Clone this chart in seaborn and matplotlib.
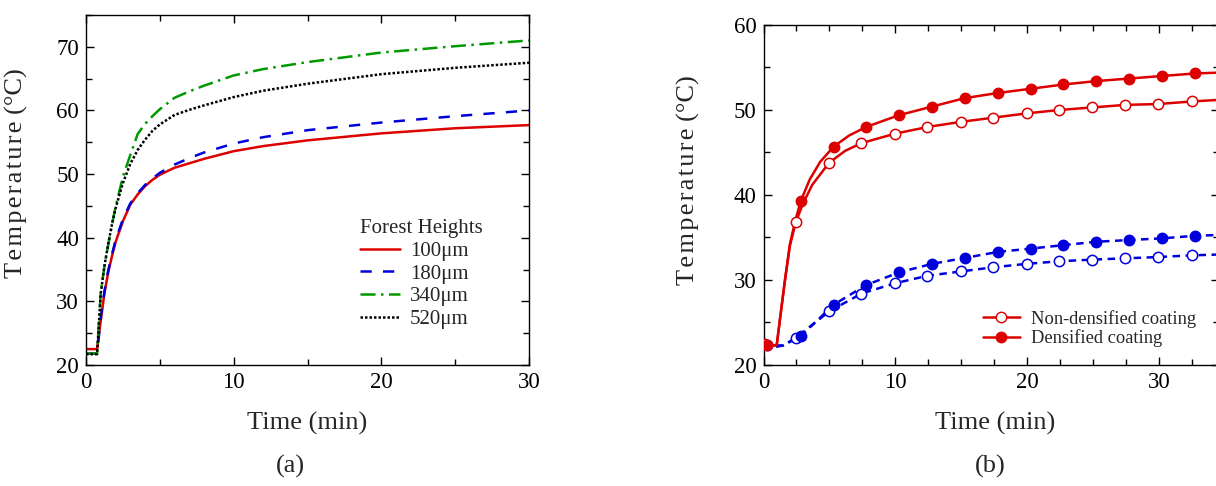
import matplotlib
matplotlib.use("Agg")
import matplotlib.pyplot as plt
from matplotlib.lines import Line2D
from matplotlib.ticker import MultipleLocator
import seaborn as sns

# panel (a): temperature vs time for four forest heights
t_a = [0, 0.75, 1.0, 1.25, 1.5, 1.75, 2.0, 2.5, 3, 3.5, 4, 4.5, 5, 6, 7, 8, 10, 12, 15, 20, 25, 30]
h100 = [22.5, 22.5, 27.0, 31.3, 34.5, 37.0, 39.3, 42.6, 45.2, 46.8, 48.1, 49.1, 49.9, 51.0, 51.7, 52.4, 53.6, 54.4, 55.3, 56.4, 57.2, 57.7]
h180 = [21.8, 21.8, 27.5, 31.6, 34.8, 37.3, 39.6, 42.9, 45.4, 47.0, 48.3, 49.3, 50.2, 51.5, 52.5, 53.4, 54.8, 55.8, 56.9, 58.1, 59.1, 60.0]
h340 = [21.8, 21.8, 31.5, 35.5, 38.8, 42.0, 44.8, 49.6, 53.0, 56.3, 57.9, 59.1, 60.2, 62.0, 63.0, 63.9, 65.5, 66.5, 67.6, 69.1, 70.1, 71.0]
h520 = [21.7, 21.7, 31.3, 35.6, 39.0, 42.0, 44.6, 48.6, 51.6, 53.8, 55.4, 56.8, 57.8, 59.3, 60.1, 60.8, 62.1, 63.1, 64.2, 65.7, 66.7, 67.5]
labels_a = ["100\u03bcm", "180\u03bcm", "340\u03bcm", "520\u03bcm"]

# panel (b): markers
t_open = [0, 2.45, 4.98, 7.43, 9.94, 12.44, 14.95, 17.45, 19.96, 22.43, 24.94, 27.44, 29.92, 32.48]
t_fill = [0.27, 2.83, 5.33, 7.78, 10.29, 12.79, 15.27, 17.78, 20.28, 22.76, 25.24, 27.74, 30.22, 32.75]
red_open = [22.5, 36.8, 43.8, 46.1, 47.2, 48.0, 48.6, 49.1, 49.6, 50.0, 50.3, 50.6, 50.7, 51.0]
red_fill = [22.3, 39.3, 45.7, 48.0, 49.4, 50.4, 51.4, 52.0, 52.5, 53.0, 53.4, 53.7, 54.0, 54.3]
blue_open = [22.5, 23.2, 26.3, 28.4, 29.6, 30.5, 31.0, 31.5, 31.9, 32.2, 32.4, 32.55, 32.7, 32.9]
blue_fill = [22.3, 23.4, 27.1, 29.4, 30.9, 31.9, 32.6, 33.3, 33.7, 34.1, 34.5, 34.7, 34.9, 35.2]

# panel (b): continuous curves
t_ro = [0, 1.0, 1.3, 1.63, 2.0, 2.45, 3.0, 3.7, 4.98, 6.2, 7.43, 9.94, 12.44, 14.95, 17.45, 19.96, 22.43, 24.94, 27.44, 29.92, 32.48, 34.6]
v_ro = [22.5, 22.3, 26.0, 30.0, 34.0, 36.8, 39.0, 41.2, 43.8, 45.2, 46.1, 47.2, 48.0, 48.6, 49.1, 49.6, 50.0, 50.3, 50.6, 50.7, 51.0, 51.2]
t_rf = [0, 0.27, 1.0, 1.3, 1.63, 2.0, 2.4, 2.83, 3.5, 4.3, 5.33, 6.5, 7.78, 10.29, 12.79, 15.27, 17.78, 20.28, 22.76, 25.24, 27.74, 30.22, 32.75, 34.6]
v_rf = [22.3, 22.3, 22.3, 26.0, 30.0, 34.2, 36.9, 39.3, 41.8, 43.9, 45.7, 47.0, 48.0, 49.4, 50.4, 51.4, 52.0, 52.5, 53.0, 53.4, 53.7, 54.0, 54.3, 54.4]
t_bo = [0, 0.8, 1.5, 2.45, 4.98, 7.43, 9.94, 12.44, 14.95, 17.45, 19.96, 22.43, 24.94, 27.44, 29.92, 32.48, 34.6]
v_bo = [22.5, 22.1, 22.3, 23.2, 26.3, 28.4, 29.6, 30.5, 31.0, 31.5, 31.9, 32.2, 32.4, 32.55, 32.7, 32.9, 33.0]
t_bf = [0, 0.27, 1.5, 2.83, 5.33, 7.78, 10.29, 12.79, 15.27, 17.78, 20.28, 22.76, 25.24, 27.74, 30.22, 32.75, 34.6]
v_bf = [22.3, 22.3, 22.3, 23.4, 27.1, 29.4, 30.9, 31.9, 32.6, 33.3, 33.7, 34.1, 34.5, 34.7, 34.9, 35.2, 35.3]

RED = "#dd0000"
BLUE = "#0000dd"
GREEN = "#009900"

sns.set_style("ticks")
plt.rcParams["font.family"] = ["Liberation Serif", "DejaVu Serif"]

fig = plt.figure(figsize=(12.16, 4.86), dpi=100)
ax1 = fig.add_axes([86 / 1216, 1 - 365 / 486, 443 / 1216, 350 / 486])
ax2 = fig.add_axes([763.5 / 1216, 1 - 365 / 486, 456 / 1216, 340 / 486])

ylab = "T\u200ae\u200am\u200ap\u200ae\u200ar\u200aa\u200at\u200au\u200ar\u200ae (\u00b0C)"


def style_axes(ax, xminor, ylim, yminor):
    ax.xaxis.set_major_locator(MultipleLocator(10))
    ax.xaxis.set_minor_locator(MultipleLocator(xminor))
    ax.yaxis.set_major_locator(MultipleLocator(10))
    ax.yaxis.set_minor_locator(MultipleLocator(yminor))
    ax.set_ylim(*ylim)
    ax.tick_params(which="both", direction="in", top=True, right=True, width=1.0, labelsize=16.5, pad=5, colors="black")
    ax.tick_params(which="major", length=6)
    ax.tick_params(which="minor", length=4)
    for s in ax.spines.values():
        s.set_linewidth(1.0)
        s.set_color("black")
        s.set_visible(True)


# ---- panel (a)
sns.lineplot(x=t_a, y=h100, ax=ax1, color=RED, lw=1.8, label=labels_a[0])
sns.lineplot(x=t_a, y=h180, ax=ax1, color=BLUE, lw=1.8, dashes=(4.5, 4.5), label=labels_a[1])
sns.lineplot(x=t_a, y=h340, ax=ax1, color=GREEN, lw=1.8, dashes=(6, 2.2, 1, 2.2), label=labels_a[2])
sns.lineplot(x=t_a, y=h520, ax=ax1, color="black", lw=1.8, dashes=(1, 0.8), label=labels_a[3])
ax1.set_xlim(0, 30)
style_axes(ax1, 5, (20, 75), 5)
ax1.set_xlabel("Time (min)", fontsize=19)
ax1.set_ylabel(ylab, fontsize=19)
ax1.xaxis.set_label_coords(0.5, -0.135)
ax1.yaxis.set_label_coords(-0.13, 0.547)
ax1.legend(title="Forest Heights", loc="upper left", bbox_to_anchor=(0.6, 0.44),
           frameon=False, fontsize=15, title_fontsize=15, handlelength=1.9,
           labelspacing=0.15, handletextpad=0.5, borderaxespad=0, alignment="left")

# ---- panel (b)
sns.lineplot(x=t_bo, y=v_bo, ax=ax2, color=BLUE, lw=1.8, dashes=(3, 2.2))
sns.lineplot(x=t_bf, y=v_bf, ax=ax2, color=BLUE, lw=1.8, dashes=(3, 2.2))
sns.scatterplot(x=t_open, y=blue_open, ax=ax2, color="white", edgecolor=BLUE, linewidth=1.1, s=55, zorder=3)
sns.scatterplot(x=t_fill, y=blue_fill, ax=ax2, color=BLUE, edgecolor=BLUE, linewidth=1.1, s=55, zorder=3)
sns.lineplot(x=t_ro, y=v_ro, ax=ax2, color=RED, lw=1.8)
sns.lineplot(x=t_rf, y=v_rf, ax=ax2, color=RED, lw=1.8)
sns.scatterplot(x=t_open, y=red_open, ax=ax2, color="white", edgecolor=RED, linewidth=1.1, s=55, zorder=4)
sns.scatterplot(x=t_fill, y=red_fill, ax=ax2, color=RED, edgecolor=RED, linewidth=1.1, s=55, zorder=4)
ax2.set_xlim(0, 34.6)
style_axes(ax2, 2.5, (20, 60), 5)
ax2.set_xlabel("Time (min)", fontsize=19)
ax2.set_ylabel(ylab, fontsize=19)
ax2.xaxis.set_label_coords(0.509, -0.138)
ax2.yaxis.set_label_coords(-0.14, 0.544)
handles_b = [
    Line2D([], [], color=RED, lw=1.8, marker="o", ms=7.5, mfc="white", mec=RED),
    Line2D([], [], color=RED, lw=1.8, marker="o", ms=7.5, mfc=RED, mec=RED),
]
ax2.legend(handles_b, ["Non-densified coating", "Densified coating"], loc="upper left",
           bbox_to_anchor=(0.465, 0.184), frameon=False, fontsize=13.3, handlelength=2.0,
           labelspacing=0.1, handletextpad=0.6, borderaxespad=0, numpoints=1)

fig.text(290 / 1216, 1 - 466 / 486, "(a)", ha="center", va="center", fontsize=19)
fig.text(990 / 1216, 1 - 466 / 486, "(b)", ha="center", va="center", fontsize=19)

fig.savefig("out.png", dpi=100)
